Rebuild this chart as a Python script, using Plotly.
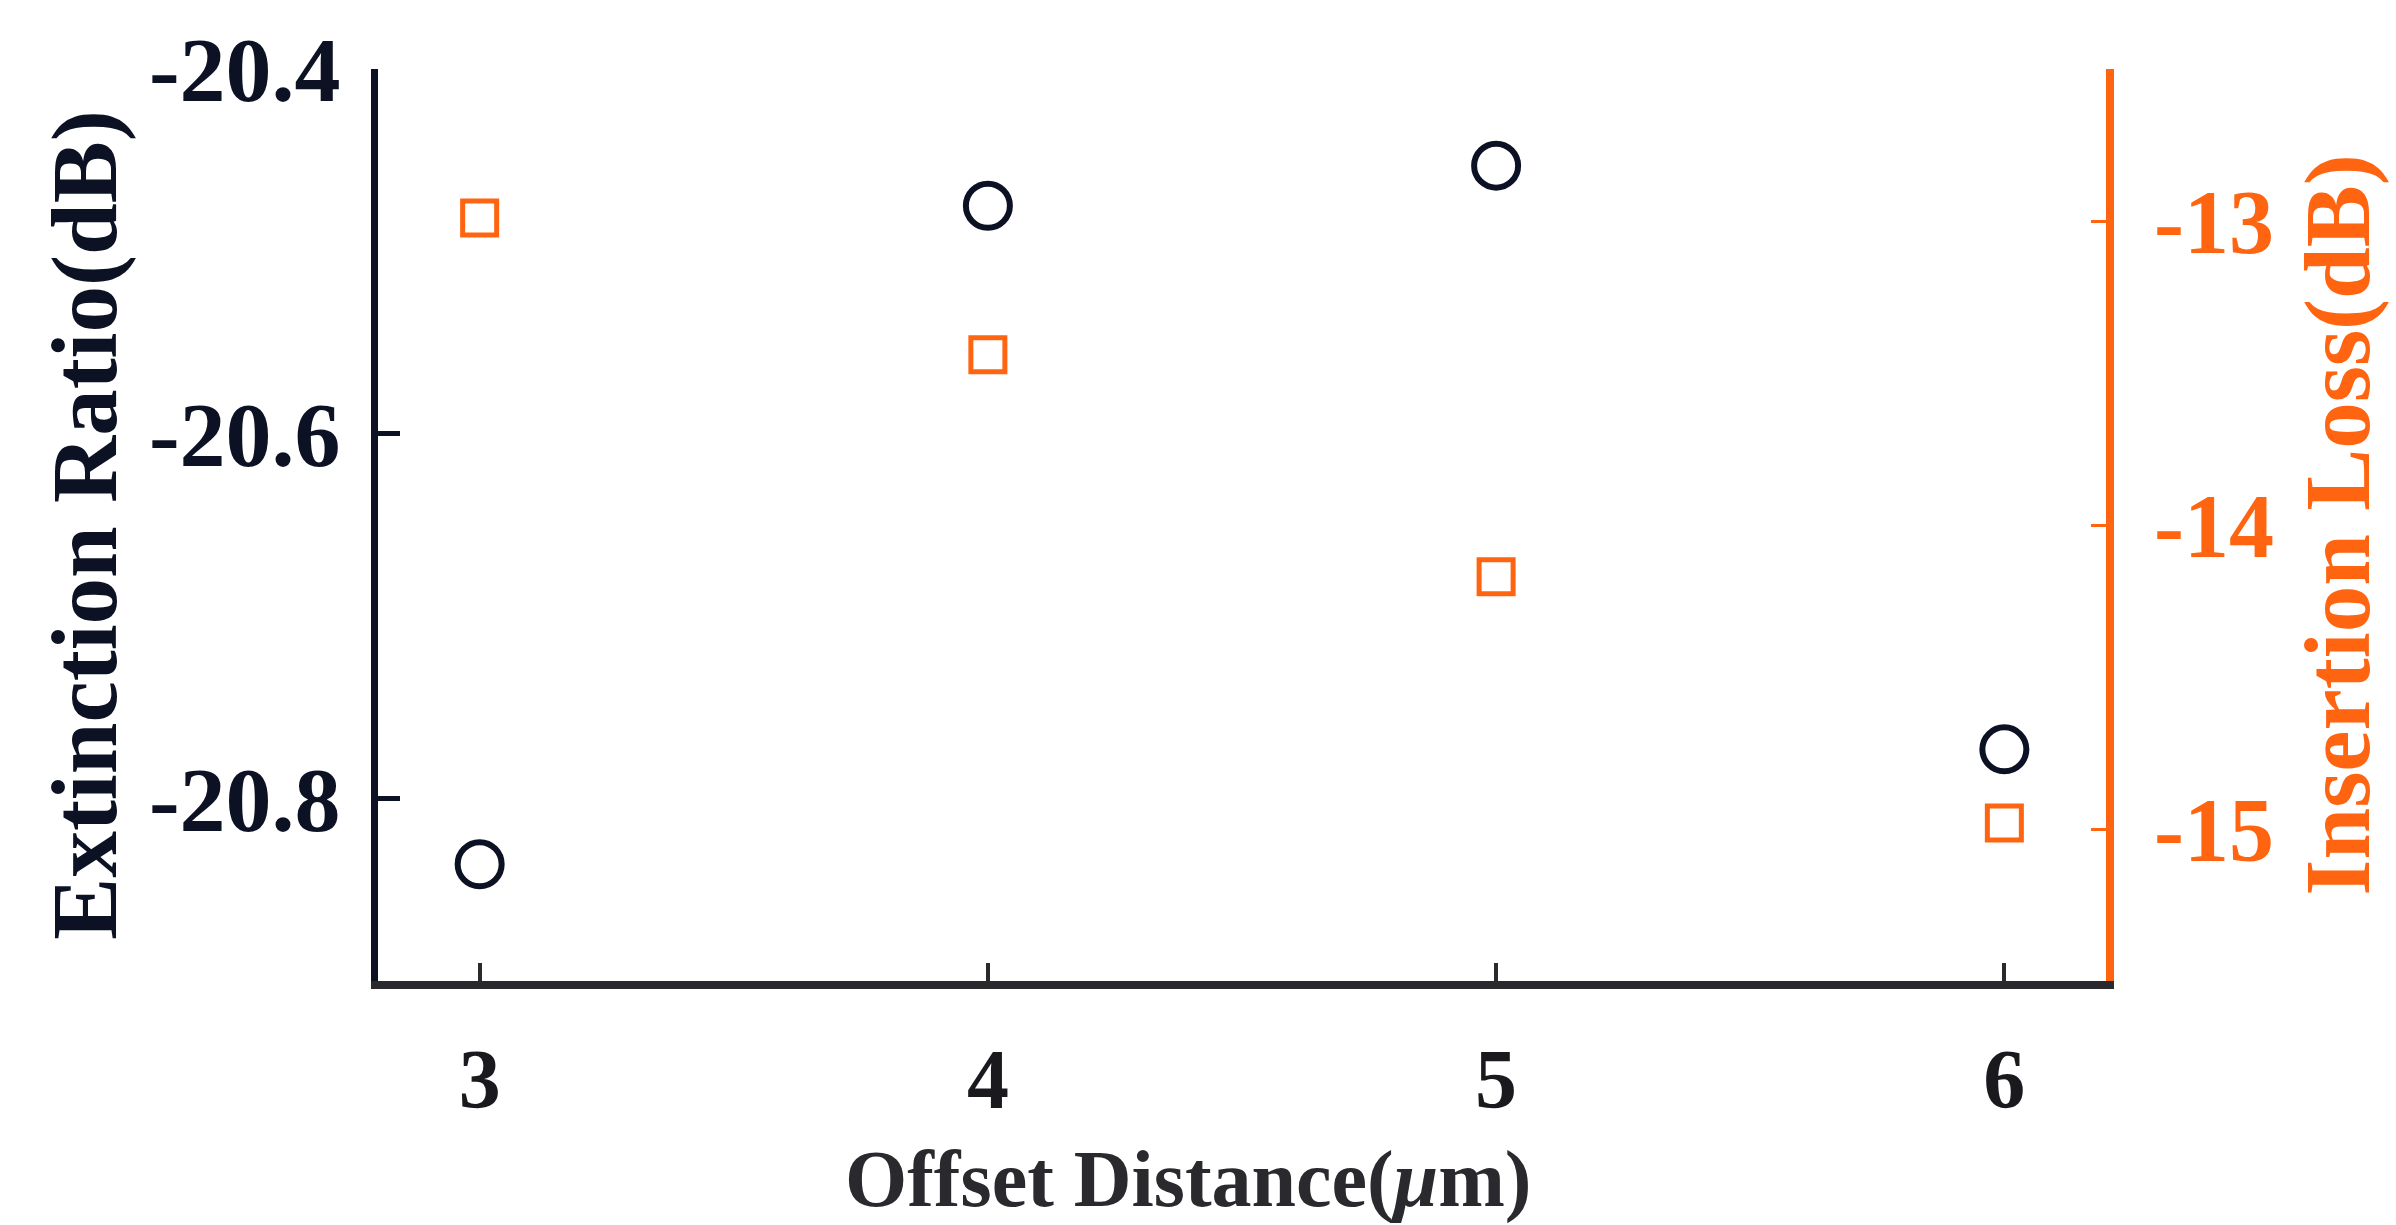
import plotly.graph_objects as go

# ---- data ----
offset_um = [3, 4, 5, 6]
extinction_ratio_db = [-20.836, -20.475, -20.453, -20.773]
insertion_loss_db = [-12.99, -13.44, -14.17, -14.98]

x_ticks = [3, 4, 5, 6]
x_ticktext = ["3", "4", "5", "6"]
er_ticks = [-20.4, -20.6, -20.8]
er_ticktext = ["-20.4", "-20.6", "-20.8"]
il_ticks = [-13, -14, -15]
il_ticktext = ["-13", "-14", "-15"]

x_title = "Offset Distance(<i>μ</i>m)"
y_title = "Extinction Ratio(dB)"
y2_title = "Insertion Loss(dB)"

NAVY = "#0c1224"
ORANGE = "#FF6410"
FONT = "Liberation Serif"

fig = go.Figure()
fig.add_trace(go.Scatter(
    x=offset_um, y=extinction_ratio_db, mode="markers", yaxis="y",
    marker=dict(symbol="circle", size=44, color="rgba(0,0,0,0)",
                line=dict(color=NAVY, width=6)),
    showlegend=False,
))
fig.add_trace(go.Scatter(
    x=offset_um, y=insertion_loss_db, mode="markers", yaxis="y2",
    marker=dict(symbol="square", size=34, color="rgba(0,0,0,0)",
                line=dict(color=ORANGE, width=5)),
    showlegend=False,
))

fig.update_layout(
    width=2396, height=1225,
    margin=dict(l=378, r=290, t=69, b=244, autoexpand=False),
    paper_bgcolor="white", plot_bgcolor="white",
    font=dict(family=FONT),
    xaxis=dict(
        range=[2.8, 6.2], tickvals=x_ticks, ticktext=x_ticktext,
        showline=True, linecolor="#2a2a2e", linewidth=8,
        ticks="inside", ticklen=18, tickwidth=4, tickcolor="#2a2a2e",
        ticklabelstandoff=18,
        tickfont=dict(family=FONT, size=84, color="#1a1a1e", weight="bold"),
        showgrid=False, zeroline=False,
    ),
    yaxis=dict(
        range=[-20.9, -20.4], tickvals=er_ticks, ticktext=er_ticktext,
        showline=True, linecolor=NAVY, linewidth=7,
        ticks="inside", ticklen=22, tickwidth=5, tickcolor=NAVY,
        ticklabelstandoff=12,
        tickfont=dict(family=FONT, size=92, color=NAVY, weight="bold"),
        showgrid=False, zeroline=False,
        title=dict(text=y_title, standoff=4,
                   font=dict(family=FONT, size=93, color=NAVY, weight="bold")),
    ),
    yaxis2=dict(
        range=[-15.5, -12.5], tickvals=il_ticks, ticktext=il_ticktext,
        overlaying="y", side="right",
        showline=True, linecolor=ORANGE, linewidth=8,
        ticks="inside", ticklen=15, tickwidth=3, tickcolor=ORANGE,
        ticklabelstandoff=22,
        tickfont=dict(family=FONT, size=90, color=ORANGE, weight="bold"),
        showgrid=False, zeroline=False,
        title=dict(text=y2_title, standoff=34,
                   font=dict(family=FONT, size=93, color=ORANGE, weight="bold")),
    ),
    annotations=[dict(
        text=x_title, xref="paper", yref="paper", x=0.469, y=-0.218,
        xanchor="center", yanchor="middle", showarrow=False,
        font=dict(family=FONT, size=80, color="#2a2a2e", weight="bold"),
    )],
)

fig.write_html("out.html")
